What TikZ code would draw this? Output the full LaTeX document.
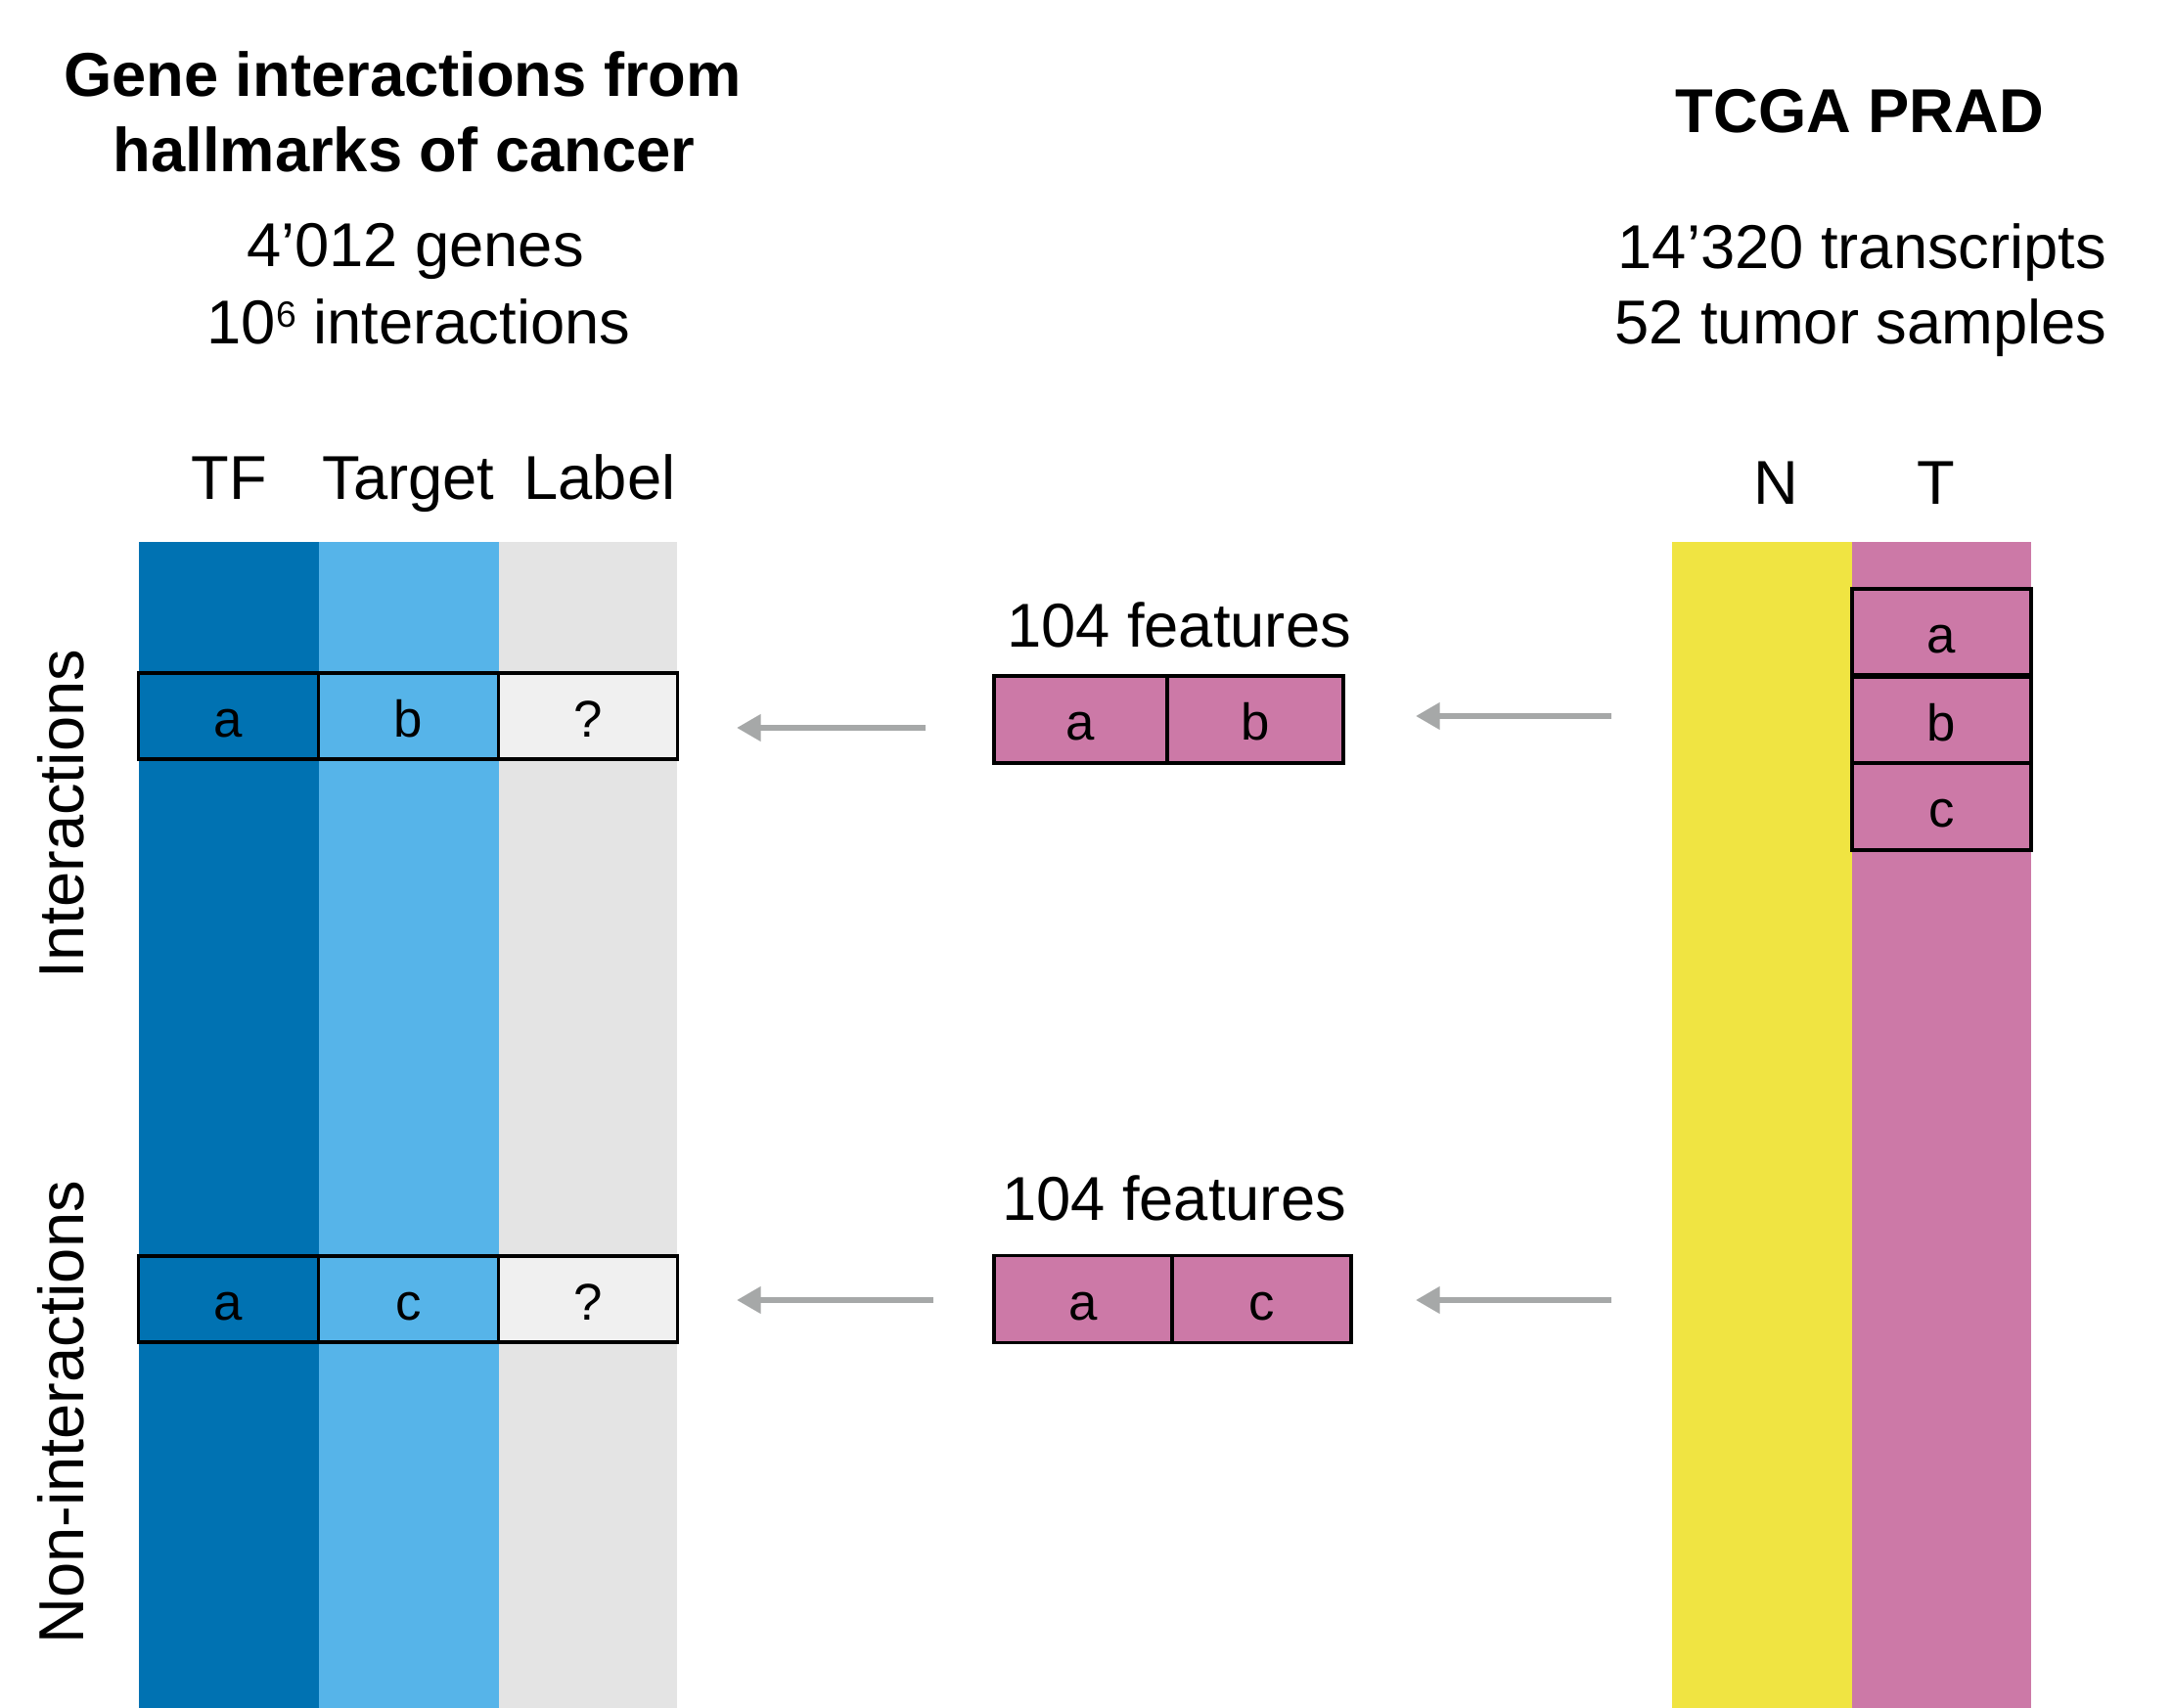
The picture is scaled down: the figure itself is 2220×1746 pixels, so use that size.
\documentclass[tikz,border=0pt]{standalone}
\usepackage{fontspec}
\setmainfont{Liberation Sans}
\usetikzlibrary{arrows.meta}
\definecolor{tfblue}{HTML}{0072B2}
\definecolor{tgblue}{HTML}{56B4E9}
\definecolor{lgray}{HTML}{E4E4E4}
\definecolor{lcell}{HTML}{F0F0F0}
\definecolor{ylw}{HTML}{F0E442}
\definecolor{pnk}{HTML}{CC79A7}
\definecolor{arrgray}{HTML}{A6A8A8}
\begin{document}
\begin{tikzpicture}[x=0.01cm,y=-0.01cm,
  colbar/.style={inner sep=0pt, outer sep=0pt, anchor=north west, minimum height=11.924cm},
  cell/.style={draw=black, line width=0.9pt, inner sep=0pt, outer sep=0pt, minimum height=0.88cm,
               text height=12pt, text depth=0pt, font=\fontsize{15}{18}\selectfont},
  lbl/.style={anchor=base, inner sep=0pt, font=\fontsize{18}{22}\selectfont},
  vlbl/.style={anchor=base, inner sep=0pt, rotate=90, font=\fontsize{18.5}{22}\selectfont},
  ttl/.style={anchor=base, inner sep=0pt, font=\fontsize{18}{22}\selectfont\bfseries},
  arr/.style={draw=arrgray, line width=1.7pt, -{Triangle[length=7pt,width=7.5pt]}},
]
\useasboundingbox (0,0) rectangle (2220,1746);

% titles
\node[ttl] (t1) at (411.5,99) {Gene interactions from};
\node[ttl] (t2) at (413,176) {hallmarks of cancer};
\node[lbl] (s1) at (424.5,273) {4’012 genes};
\node[lbl] (s2) at (428,352) {10\raisebox{5pt}{\fontsize{10.6}{12}\selectfont 6} interactions};
\node[ttl] (t3) at (1901,136) {TCGA PRAD};
\node[lbl] (s3) at (1903.5,275) {14’320 transcripts};
\node[lbl] (s4) at (1902,352) {52 tumor samples};

% column headers
\node[lbl] (hTF) at (234.5,511) {TF};
\node[lbl] (hTg) at (417.5,511) {Target};
\node[lbl] (hLb) at (613,511) {Label};
\node[lbl] (hN) at (1815,516) {N};
\node[lbl] (hT) at (1979,516) {T};

% left columns
\node[colbar, fill=tfblue, minimum width=1.84cm] (ctf) at (141.6,553.6) {};
\node[colbar, fill=tgblue, minimum width=1.841cm] (ctg) at (325.6,553.6) {};
\node[colbar, fill=lgray, minimum width=1.826cm] (clb) at (509.7,553.6) {};

% right columns
\node[colbar, fill=ylw, minimum width=1.84cm] (cN) at (1709,553.6) {};
\node[colbar, fill=pnk, minimum width=1.83cm] (cT) at (1893,553.6) {};

% vertical labels
\node[vlbl] (vi) at (85,832) {Interactions};
\node[vlbl] (vn) at (85,1444) {Non-interactions};

% left rows
\node[cell, fill=tfblue, minimum width=1.84cm] (ia) at (233.6,732) {a};
\node[cell, fill=tgblue, minimum width=1.84cm] (ib) at (417.6,732) {b};
\node[cell, fill=lcell, minimum width=1.83cm] (iq) at (601,732) {?};
\node[cell, fill=tfblue, minimum width=1.84cm] (na) at (233.6,1328) {a};
\node[cell, fill=tgblue, minimum width=1.84cm] (nc) at (417.6,1328) {c};
\node[cell, fill=lcell, minimum width=1.83cm] (nq) at (601,1328) {?};

% feature boxes
\node[lbl] (f1) at (1205,661.7) {104 features};
\node[cell, fill=pnk, minimum width=1.77cm, minimum height=0.89cm] (fa) at (1104.5,735.5) {a};
\node[cell, fill=pnk, minimum width=1.80cm, minimum height=0.89cm] (fb) at (1283,735.5) {b};
\node[lbl] (f2) at (1200,1248) {104 features};
\node[cell, fill=pnk, minimum width=1.82cm, minimum height=0.89cm] (ga) at (1107,1328) {a};
\node[cell, fill=pnk, minimum width=1.83cm, minimum height=0.89cm] (gc) at (1289.5,1328) {c};

% T column samples
\node[cell, fill=pnk, minimum width=1.83cm] (ta) at (1984.5,646) {a};
\node[cell, fill=pnk, minimum width=1.83cm] (tb) at (1984.5,736) {b};
\node[cell, fill=pnk, minimum width=1.83cm, minimum height=0.89cm] (tc) at (1984.5,824.5) {c};

% arrows
\coordinate (a1s) at (946,744);
\coordinate (a1e) at (753,744);
\coordinate (a2s) at (1647,732);
\coordinate (a2e) at (1447,732);
\coordinate (a3s) at (954,1329);
\coordinate (a3e) at (753,1329);
\coordinate (a4s) at (1647,1329);
\coordinate (a4e) at (1447,1329);
\draw[arr] (a1s) -- (a1e);
\draw[arr] (a2s) -- (a2e);
\draw[arr] (a3s) -- (a3e);
\draw[arr] (a4s) -- (a4e);
\end{tikzpicture}
\end{document}
